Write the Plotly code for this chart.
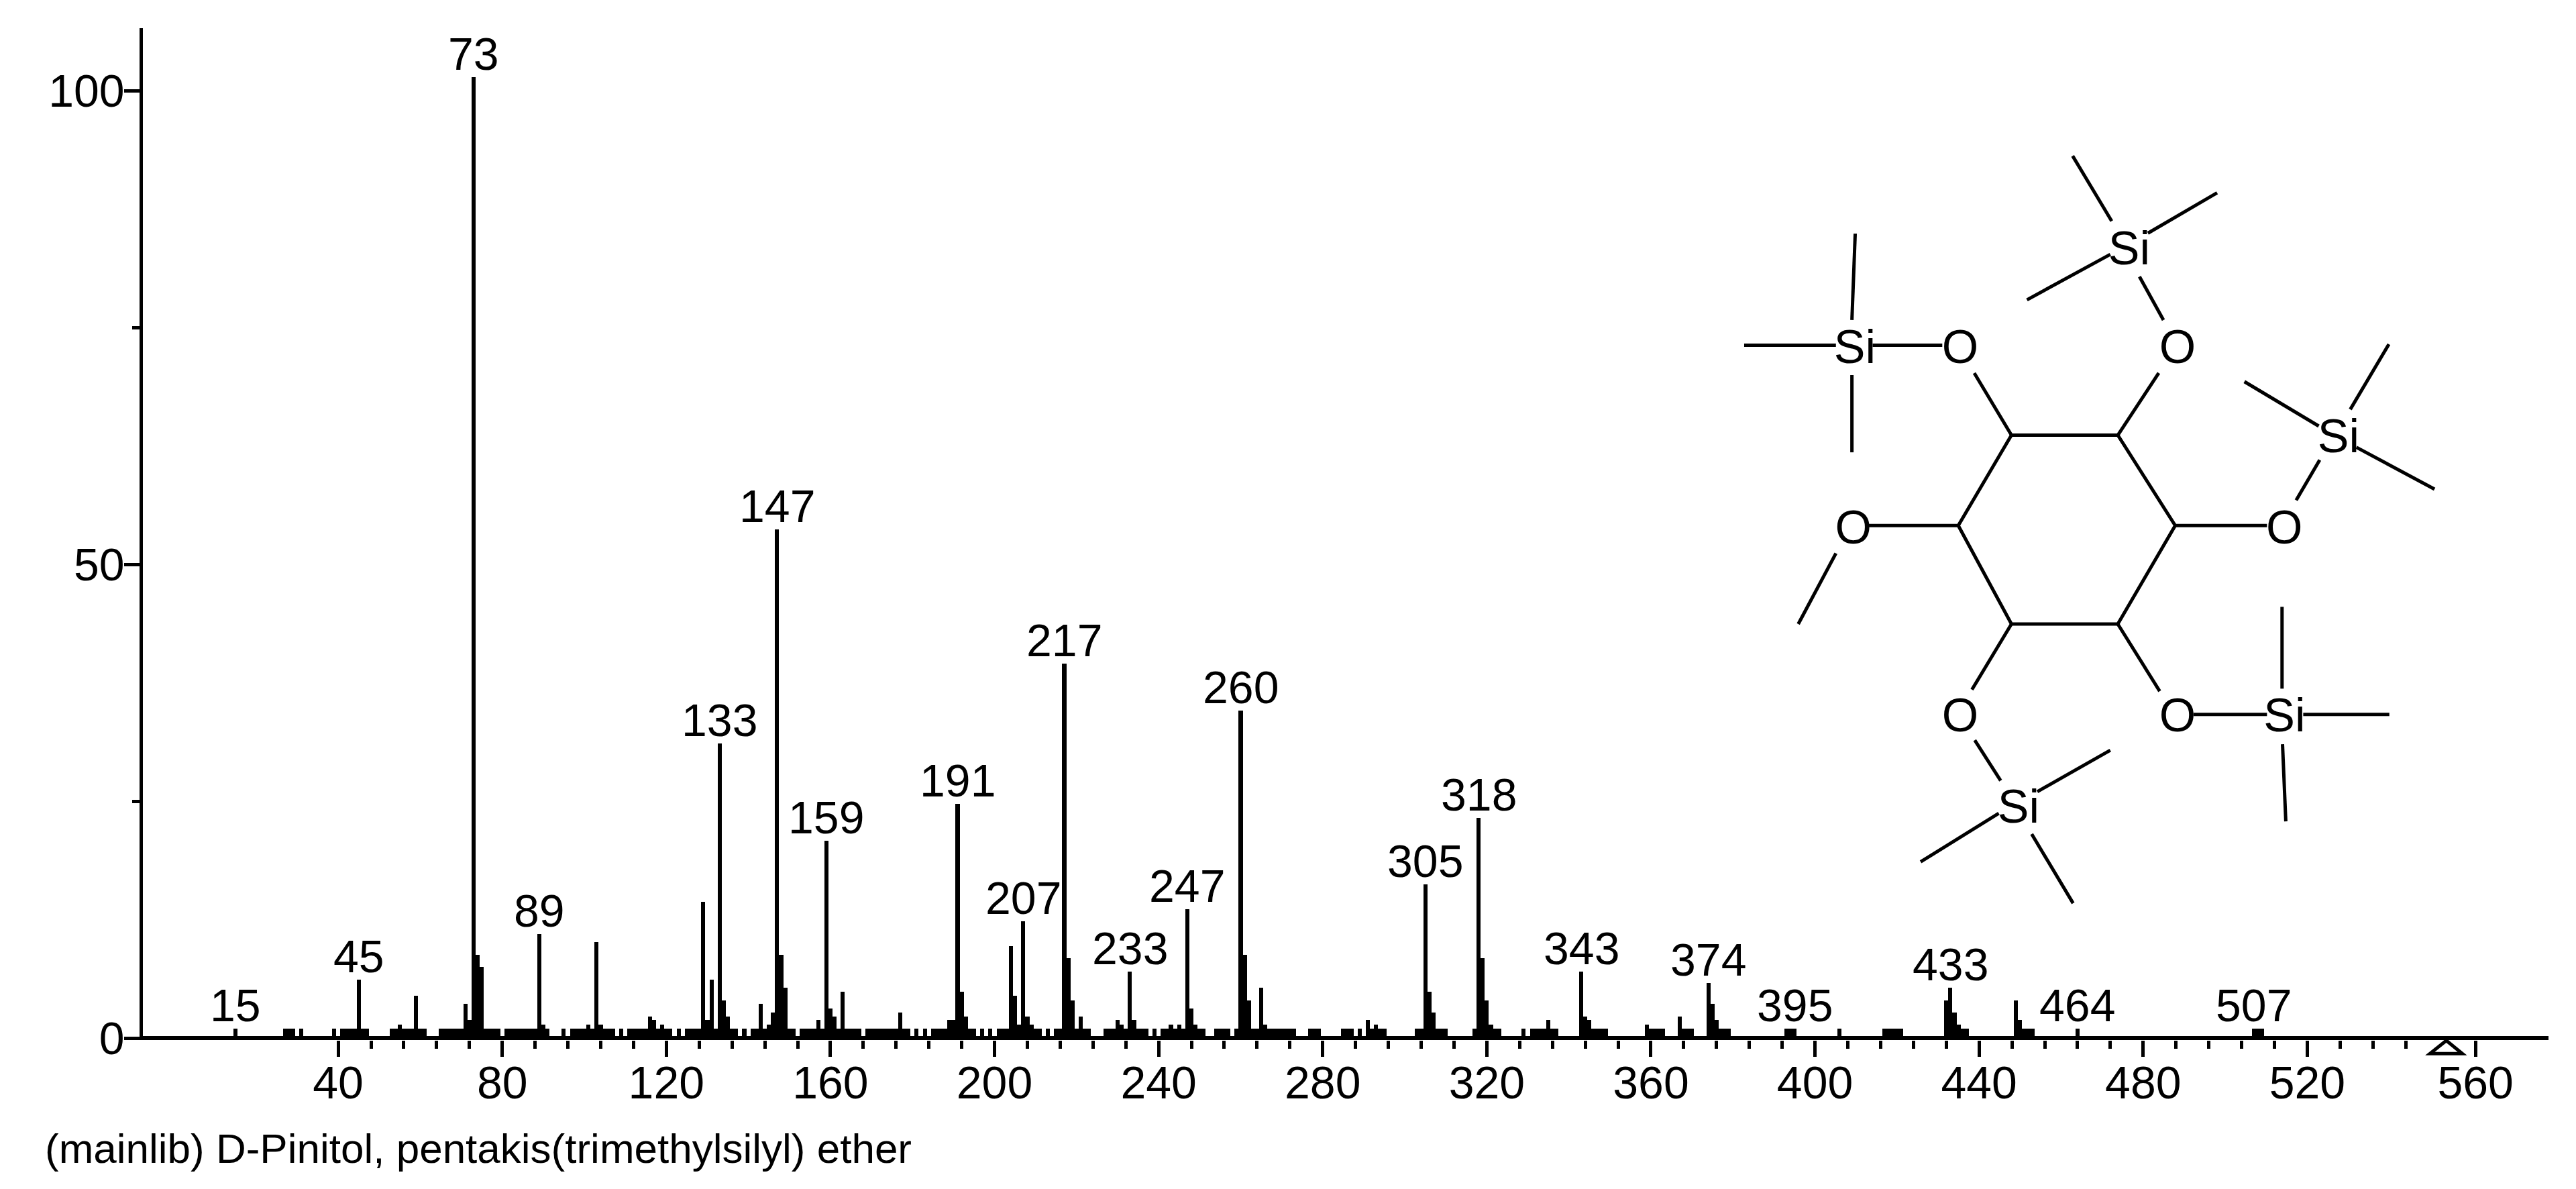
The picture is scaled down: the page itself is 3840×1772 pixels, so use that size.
import plotly.graph_objects as go

FONT = "Liberation Sans"

# m/z of the small peaks that all sit at the same height
small_mz = [15, 27, 28, 29, 31, 39, 41, 42, 43, 44, 46, 47, 53, 54, 56, 57, 58, 60, 61, 65, 66, 67, 68, 69, 70,
            76, 77, 78, 79, 81, 82, 83, 84, 85, 86, 87, 88, 91, 95, 97, 98, 99, 100, 102, 105, 106, 107, 109,
            111, 112, 113, 114, 115, 118, 120, 121, 123, 125, 126, 127, 128, 132, 136, 137, 139, 141, 142, 144,
            150, 151, 153, 154, 155, 156, 158, 162, 164, 165, 166, 167, 169, 170, 171, 172, 173, 174, 175, 176,
            178, 179, 181, 183, 185, 186, 187, 188, 194, 195, 197, 199, 201, 202, 203, 210, 211, 213, 215, 216,
            220, 222, 223, 227, 228, 229, 232, 235, 236, 237, 239, 241, 242, 244, 246, 250, 251, 254, 255, 256,
            257, 259, 263, 264, 267, 268, 269, 270, 271, 272, 273, 277, 278, 279, 285, 286, 287, 289, 292, 294,
            295, 303, 304, 308, 309, 310, 317, 322, 323, 329, 331, 332, 333, 334, 336, 337, 346, 347, 348, 349,
            360, 361, 362, 363, 368, 369, 370, 377, 378, 379, 393, 394, 395, 406, 417, 418, 419, 420, 421, 436,
            437, 451, 452, 453, 464, 507, 508, 509]
small_intensity = 1.0

peak_mz = [45, 55, 59, 71, 72, 73, 74, 75, 89, 90, 101, 103, 104, 116, 117, 119, 129, 130, 131, 133, 134, 135,
           143, 145, 146, 147, 148, 149, 157, 159, 160, 161, 163, 177, 189, 190, 191, 192, 193, 204, 205, 206,
           207, 208, 209, 217, 218, 219, 221, 230, 231, 233, 234, 243, 245, 247, 248, 249, 260, 261, 262, 265,
           266, 291, 293, 305, 306, 307, 318, 319, 320, 321, 335, 343, 344, 345, 359, 367, 374, 375, 376, 432,
           433, 434, 435, 449, 450]
peak_intensity = [6.2, 1.4, 4.5, 3.6, 1.9, 101.4, 8.8, 7.5, 11.0, 1.4, 1.4, 10.1, 1.4, 2.3, 1.9, 1.4, 14.4, 1.9,
                  6.2, 31.1, 4.0, 2.3, 3.6, 1.4, 2.7, 53.7, 8.8, 5.3, 1.9, 20.8, 3.1, 2.3, 4.9, 2.7, 1.9, 1.9,
                  24.7, 4.9, 2.3, 9.7, 4.5, 1.4, 12.3, 2.3, 1.4, 39.5, 8.4, 4.0, 2.3, 1.9, 1.4, 7.05, 1.9, 1.4,
                  1.4, 13.6, 3.1, 1.4, 34.6, 8.8, 4.0, 5.3, 1.4, 1.9, 1.4, 16.2, 4.9, 2.7, 23.2, 8.4, 4.0, 1.4,
                  1.9, 7.05, 2.3, 1.9, 1.4, 2.3, 5.8, 3.6, 1.9, 4.0, 5.3, 2.7, 1.4, 4.0, 1.9]

labelled_mz = [15, 45, 73, 89, 133, 147, 159, 191, 207, 217, 233, 247, 260, 305, 318, 343, 374, 395, 433, 464, 507]

# the 560 tick sits a little right of its true place in the original
x_major_vals = [40, 80, 120, 160, 200, 240, 280, 320, 360, 400, 440, 480, 520, 561]
x_major_text = ["40", "80", "120", "160", "200", "240", "280", "320", "360", "400", "440", "480", "520", "560"]
x_minor_vals = [48, 56, 64, 72, 88, 96, 104, 112, 128, 136, 144, 152, 168, 176, 184, 192, 208, 216, 224, 232,
                248, 256, 264, 272, 288, 296, 304, 312, 328, 336, 344, 352, 368, 376, 384, 392, 408, 416, 424,
                432, 448, 456, 464, 472, 488, 496, 504, 512, 528, 536, 544]
y_major_vals = [0, 50, 100]
y_minor_vals = [25, 75]

title_text = "(mainlib) D-Pinitol, pentakis(trimethylsilyl) ether"

# molecule, in its own drawing units; None breaks the line between bonds
bond_x = [625, 851, 973, 851, 625, 512, 625, None, 625, 546, None, 851, 938, None, 973, 1168, None, 851, 940, None,
          625, 541, None, 512, 322, None, 252, 172, None, 330, 478, None, 57, 252, None, 293, 286, None, 286, 286, None,
          948, 897, None, 838, 755, None, 915, 1062, None, 835, 658, None, 1230, 1280, None, 1345, 1427, None,
          1278, 1120, None, 1358, 1524, None, 1012, 1168, None, 1200, 1200, None, 1245, 1428, None, 1201, 1208, None,
          547, 602, None, 680, 835, None, 598, 432, None, 668, 756]
bond_y = [596, 596, 775, 970, 970, 775, 596, None, 596, 473, None, 596, 473, None, 775, 775, None, 970, 1103, None,
          970, 1100, None, 775, 775, None, 830, 970, None, 418, 418, None, 418, 418, None, 197, 368, None, 477, 630, None,
          368, 282, None, 172, 43, None, 196, 116, None, 238, 328, None, 725, 645, None, 545, 416, None,
          578, 490, None, 620, 703, None, 1149, 1149, None, 1098, 936, None, 1149, 1149, None, 1208, 1361, None,
          1200, 1280, None, 1302, 1220, None, 1345, 1441, None, 1386, 1523]
atom_x = [516, 978, 289, 1205, 516, 978, 292, 875, 1320, 1205, 640]
atom_y = [430, 430, 787, 787, 1160, 1160, 430, 235, 607, 1160, 1340]
atom_text = ["O", "O", "O", "O", "O", "O", "Si", "Si", "Si", "Si", "Si"]

all_mz = small_mz + peak_mz
all_intensity = [small_intensity] * len(small_mz) + peak_intensity
height_of = dict(zip(all_mz, all_intensity))

# plot area in screenshot pixels; the page body adds an 8 px margin on every side
body = 8
left, right, top, bottom = 213, 3799, 42, 1550
width, height = 3840 - 2 * body, 1772 - 2 * body

fig = go.Figure()
fig.add_trace(go.Bar(x=all_mz, y=all_intensity, width=1.0, marker={"color": "black", "line": {"width": 0}}))

# molecule axes: drawing units map to screenshot pixels through these ranges
mol_x0, mol_y0, mol_sx, mol_sy = 2560, 200, 1.4255, 1.3288
fig.add_trace(go.Scatter(x=bond_x, y=bond_y, mode="lines", line={"color": "black", "width": 5},
                         xaxis="x2", yaxis="y2", connectgaps=False))
fig.add_trace(go.Scatter(x=atom_x, y=atom_y, mode="text", text=atom_text, textposition="middle center",
                         textfont={"family": FONT, "size": 70, "color": "black"}, xaxis="x2", yaxis="y2"))

for mz in labelled_mz:
    fig.add_annotation(x=mz, y=height_of[mz], text=str(mz), showarrow=False, yanchor="bottom", yshift=-5,
                       font={"family": FONT, "size": 68, "color": "black"})

fig.add_annotation(xref="paper", yref="paper", x=(65 - left) / (right - left), y=(bottom - 1711) / (bottom - top),
                   xanchor="left", yanchor="middle", text=title_text, showarrow=False,
                   font={"family": FONT, "size": 62, "color": "black"})

# molecular ion marker under the axis
fig.add_shape(type="path", xref="x", yref="paper", path="M 549.9,-0.0135 L 557.8,-0.0135 L 553.9,-0.0005 Z",
              line={"color": "black", "width": 5}, fillcolor="white")

fig.update_layout(
    width=width, height=height, showlegend=False, plot_bgcolor="white", paper_bgcolor="white",
    margin={"l": left - body, "r": width - (right - body), "t": top - body, "b": height - (bottom - body), "pad": 0},
    bargap=0,
    xaxis={"range": [-7.6, 578.8], "showgrid": False, "zeroline": False, "showline": False,
           "tickmode": "array", "tickvals": x_major_vals, "ticktext": x_major_text,
           "ticks": "outside", "ticklen": 24, "tickwidth": 5, "tickcolor": "black", "ticklabelstandoff": -20,
           "tickfont": {"family": FONT, "size": 68, "color": "black"},
           "minor": {"tickmode": "array", "tickvals": x_minor_vals, "ticks": "outside", "ticklen": 12,
                     "tickwidth": 5, "tickcolor": "black", "showgrid": False}},
    yaxis={"range": [-0.21, 106.6], "showgrid": False, "zeroline": True, "zerolinecolor": "black",
           "zerolinewidth": 6, "showline": True, "linecolor": "black", "linewidth": 4.5,
           "tickmode": "array", "tickvals": y_major_vals,
           "ticks": "outside", "ticklen": 23, "tickwidth": 5, "tickcolor": "black", "ticklabelstandoff": -14,
           "tickfont": {"family": FONT, "size": 68, "color": "black"},
           "minor": {"tickmode": "array", "tickvals": y_minor_vals, "ticks": "outside", "ticklen": 11,
                     "tickwidth": 5, "tickcolor": "black", "showgrid": False}},
    xaxis2={"overlaying": "x", "visible": False,
            "range": [(left - mol_x0) * mol_sx, (right - mol_x0) * mol_sx]},
    yaxis2={"overlaying": "y", "visible": False,
            "range": [(bottom - mol_y0) * mol_sy, (top - mol_y0) * mol_sy]},
)

fig.write_html("out.html")
